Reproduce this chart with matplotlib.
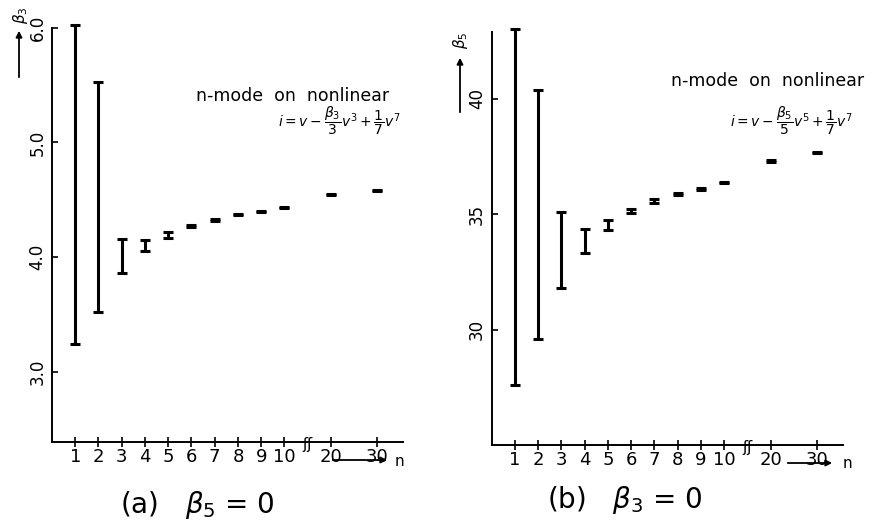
import numpy as np
import matplotlib
matplotlib.use('Agg')
import matplotlib.pyplot as plt
import matplotlib.transforms as mtransforms

# mode number n and the range of beta found for each n
n_modes = [1, 2, 3, 4, 5, 6, 7, 8, 9, 10, 20, 30]
n_labels = ['1', '2', '3', '4', '5', '6', '7', '8', '9', '10', '20', '30']

# (a) beta5 = 0 : range of beta3
beta3_lo = [3.24, 3.52, 3.86, 4.05, 4.17, 4.26, 4.32, 4.365, 4.395, 4.425, 4.545, 4.575]
beta3_hi = [6.02, 5.53, 4.16, 4.15, 4.22, 4.285, 4.335, 4.375, 4.405, 4.435, 4.555, 4.585]

# (b) beta3 = 0 : range of beta5
beta5_lo = [27.59, 29.57, 31.79, 33.32, 34.30, 35.03, 35.46, 35.84, 36.06, 36.33, 37.27, 37.63]
beta5_hi = [43.0, 40.37, 35.11, 34.36, 34.74, 35.23, 35.64, 35.92, 36.14, 36.39, 37.33, 37.69]

W, H = 877, 526


def xpos(n):
    # broken x axis: 1..10 linear, then 20 and 30 squeezed
    n = np.asarray(n, dtype=float)
    return np.where(n <= 10, n, 10 + (n - 10) / 5.0)


def draw_panel(ax, lo, hi, yticks, ylabels, ylim):
    lo = np.array(lo)
    hi = np.array(hi)
    mid = (lo + hi) / 2
    ax.errorbar(xpos(n_modes), mid, yerr=[mid - lo, hi - mid], fmt='none',
                ecolor='black', elinewidth=2.2, capsize=3.5, capthick=2.2,
                clip_on=False)
    ax.set_xlim(0, 15.1)
    ax.set_ylim(*ylim)
    ax.spines['top'].set_visible(False)
    ax.spines['right'].set_visible(False)
    ax.spines['left'].set_linewidth(1.4)
    ax.spines['bottom'].set_linewidth(1.4)
    ax.set_xticks(xpos(n_modes))
    ax.set_xticklabels(n_labels, fontsize=13)
    ax.tick_params(axis='x', direction='inout', length=7, width=1.2, pad=1)
    ax.set_yticks(yticks)
    ax.set_yticklabels(ylabels, fontsize=12, rotation=90, va='center')
    ax.tick_params(axis='y', direction='in', length=4, width=1.2, pad=4)
    # axis break mark
    tr = mtransforms.blended_transform_factory(ax.transData, ax.transAxes)
    ax.text(11, -0.005, 'ʃʃ', transform=tr, ha='center', va='center',
            fontsize=11, clip_on=False)


fig = plt.figure(figsize=(W / 100, H / 100), dpi=100)
ax1 = fig.add_axes([52 / W, 1 - 442 / H, 351 / W, (442 - 27.7) / H])
ax2 = fig.add_axes([491.7 / W, 1 - 445 / H, 351 / W, (445 - 31.7) / H])

draw_panel(ax1, beta3_lo, beta3_hi, [3.0, 4.0, 5.0, 6.0],
           ['3.0', '4.0', '5.0', '6.0'], (2.39, 6.0))
draw_panel(ax2, beta5_lo, beta5_hi, [30, 35, 40], ['30', '35', '40'],
           (25.0, 42.9))

ax1.text(0.41, 0.835, 'n-mode  on  nonlinear', transform=ax1.transAxes,
         fontsize=12.5, ha='left', va='center')
ax1.text(0.645, 0.775, r'$i = v - \dfrac{\beta_3}{3}v^3 + \dfrac{1}{7}v^7$',
         transform=ax1.transAxes, fontsize=10, ha='left', va='center')
ax2.text(0.51, 0.88, 'n-mode  on  nonlinear', transform=ax2.transAxes,
         fontsize=12.5, ha='left', va='center')
ax2.text(0.68, 0.785, r'$i = v - \dfrac{\beta_5}{5}v^5 + \dfrac{1}{7}v^7$',
         transform=ax2.transAxes, fontsize=10, ha='left', va='center')


def fig_arrow(x0, y0, x1, y1):
    fig.add_artist(matplotlib.patches.FancyArrowPatch(
        (x0 / W, 1 - y0 / H), (x1 / W, 1 - y1 / H), transform=fig.transFigure,
        arrowstyle='-|>', mutation_scale=9, lw=1.3, color='black'))


# axis labels drawn as arrows, like the original
fig_arrow(19, 80, 19, 28)
fig.text(20 / W, 1 - 15 / H, r'$\beta_3$', rotation=90, fontsize=11,
         ha='center', va='center')
fig_arrow(460, 115, 460, 55)
fig.text(461 / W, 1 - 40 / H, r'$\beta_5$', rotation=90, fontsize=11,
         ha='center', va='center')
fig_arrow(330, 460, 390, 460)
fig.text(399 / W, 1 - 462 / H, 'n', fontsize=11, ha='center', va='center')
fig_arrow(785, 463, 835, 463)
fig.text(847 / W, 1 - 464 / H, 'n', fontsize=11, ha='center', va='center')

fig.text(197 / W, 1 - 505 / H, r'(a)   $\beta_5$ = 0', fontsize=20,
         ha='center', va='center')
fig.text(625 / W, 1 - 500 / H, r'(b)   $\beta_3$ = 0', fontsize=20,
         ha='center', va='center')

fig.savefig('out.png', dpi=100)
